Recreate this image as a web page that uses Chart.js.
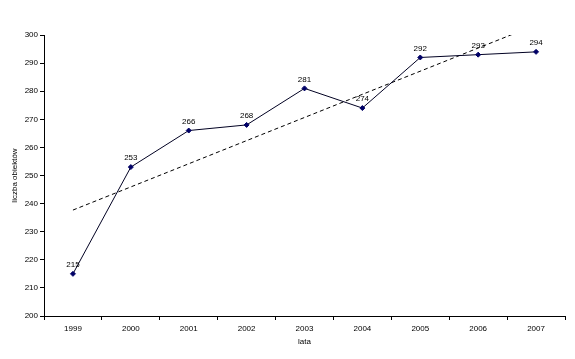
<!DOCTYPE html>
<html><head><meta charset="utf-8">
<script src="https://cdn.jsdelivr.net/npm/chart.js@4/dist/chart.umd.min.js"></script>
<style>html,body{margin:0;padding:0;background:#fff}#wrap{width:575px;height:359px}</style>
</head><body><div id="wrap"><canvas id="c" width="575" height="359"></canvas></div>
<script>
const years = ['1999','2000','2001','2002','2003','2004','2005','2006','2007'];
const counts = [215, 253, 266, 268, 281, 274, 292, 293, 294];
const trendStart = 237.7;
const trendEnd = 303.6;
const trendValues = years.map((y, i) => i === 0 ? trendStart : (i === years.length - 1 ? trendEnd : null));
const yTicks = [200, 210, 220, 230, 240, 250, 260, 270, 280, 290, 300];

const FONT = 'Liberation Sans, Arial, sans-serif';

const labelPlugin = {
  id: 'pointLabels',
  afterDatasetsDraw(chart) {
    const ctx = chart.ctx;
    const meta = chart.getDatasetMeta(0);
    ctx.save();
    ctx.font = '8px ' + FONT;
    ctx.fillStyle = '#000';
    ctx.textAlign = 'center';
    ctx.textBaseline = 'bottom';
    meta.data.forEach((pt, i) => {
      ctx.fillText(String(counts[i]), pt.x, pt.y - 5);
    });
    ctx.restore();
  }
};

new Chart(document.getElementById('c'), {
  type: 'line',
  data: {
    labels: years,
    datasets: [
      {
        data: counts,
        borderColor: '#000022',
        borderWidth: 1,
        pointStyle: 'rectRot',
        pointRadius: 2.5,
        pointBackgroundColor: '#000066',
        pointBorderColor: '#000066',
        tension: 0
      },
      {
        data: trendValues,
        spanGaps: true,
        borderColor: '#000',
        borderWidth: 1,
        borderDash: [4, 3],
        pointRadius: 0,
        tension: 0
      }
    ]
  },
  options: {
    responsive: false,
    animation: false,
    layout: { padding: { left: 0, right: 10, top: 35, bottom: 0 } },
    plugins: { legend: { display: false }, tooltip: { enabled: false } },
    scales: {
      x: {
        offset: true,
        grid: { display: true, drawOnChartArea: false, drawTicks: true, tickLength: 4, offset: true, color: '#000' },
        border: { display: true, color: '#000', width: 1 },
        ticks: { font: { family: FONT, size: 8 }, color: '#000', padding: 4, maxRotation: 0 },
        title: { display: true, text: 'lata', font: { family: FONT, size: 8 }, color: '#000', padding: { top: 0, bottom: 12 } },
        afterFit(s) { s.height = 43; }
      },
      y: {
        min: 200, max: 300,
        afterBuildTicks(s) { s.ticks = yTicks.map(v => ({ value: v })); },
        grid: { display: true, drawOnChartArea: false, drawTicks: true, tickLength: 4, color: '#000' },
        border: { display: true, color: '#000', width: 1 },
        ticks: { font: { family: FONT, size: 8 }, color: '#000', padding: 2 },
        title: { display: true, text: 'liczba obiektów', font: { family: FONT, size: 8 }, color: '#000', padding: { top: 10, bottom: 2 } },
        afterFit(s) { s.width = 44; }
      }
    }
  },
  plugins: [labelPlugin]
});
</script>
</body></html>
